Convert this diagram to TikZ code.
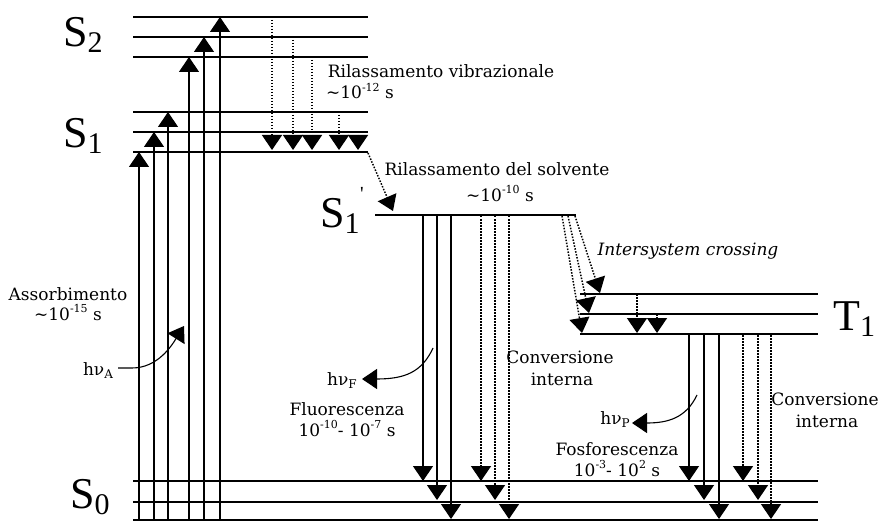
\documentclass[tikz,border=0pt]{standalone}
\usepackage{fontspec}
\setmainfont{DejaVu Serif}
\newfontfamily\labfont{Liberation Serif}
\usetikzlibrary{arrows.meta}
\newcommand\txtsize{\fontsize{17}{20}\selectfont}
\newcommand\sps[1]{\raisebox{0.42em}{\fontsize{11}{11}\selectfont #1}}
\newcommand\sbs[1]{\raisebox{-0.22em}{\fontsize{12}{12}\selectfont #1}}
\newcommand\lbl[2]{{\labfont\fontsize{44}{44}\selectfont #1\raisebox{-6pt}{\fontsize{30}{30}\selectfont #2}}}
\begin{document}
\begin{tikzpicture}[x=1pt,y=-1pt,
  lvl/.style={line width=1.3pt},
  lvlb/.style={line width=2.3pt},
  tipa/.style={-{Triangle[width=20pt,length=15pt]}},
  rad/.style={tipa,line width=1.3pt},
  nonrad/.style={tipa,line width=1.5pt,dash pattern=on 1.5pt off 1.5pt},
  curv/.style={tipa,line width=1.1pt},
  txt/.style={font=\txtsize,inner sep=0pt,anchor=base},
  lab/.style={inner sep=0pt,anchor=base west}]
\useasboundingbox (0,0) rectangle (882,521);
\fill[white] (0,0) rectangle (882,521);

% ---- energy levels ----
\foreach \y/\s in {17/lvl,37/lvl,57/lvlb,112/lvl,132/lvl,152/lvlb}
  \draw[\s] (133,\y) coordinate (L\y a) -- (368,\y) coordinate (L\y b);
\draw[lvlb] (375,215) coordinate (Sp a) -- (576,215) coordinate (Sp b);
\foreach \y/\s in {294/lvl,314/lvl,334/lvlb}
  \draw[\s] (580,\y) coordinate (T\y a) -- (818,\y) coordinate (T\y b);
\foreach \y/\s in {481/lvl,502/lvl,520/lvlb}
  \draw[\s] (133,\y) coordinate (G\y a) -- (818,\y) coordinate (G\y b);

% ---- absorption ----
\foreach \x/\y in {139/152,154/132,168/112,189/57,204/37,220/17}
  \draw[rad] (\x,530) coordinate (A\x s) -- (\x,\y) coordinate (A\x e);

% ---- vibrational relaxation S ----
\foreach \x/\y in {272/17,293/37,312/57,339/112,358/132}
  \draw[nonrad] (\x,\y) coordinate (V\x s) -- (\x,150) coordinate (V\x e);

% ---- solvent relaxation ----
\coordinate (sr1) at (368,153);
\coordinate (sr2) at (393,211);
\draw[nonrad] (sr1) -- (sr2);

% ---- fluorescence and internal conversion from S1' ----
\foreach \x/\y in {423/481,437/500,451/519}
  \draw[rad] (\x,216) coordinate (F\x s) -- (\x,\y) coordinate (F\x e);
\foreach \x/\y in {481/481,495/500,509/519}
  \draw[nonrad] (\x,216) coordinate (C\x s) -- (\x,\y) coordinate (C\x e);

% ---- intersystem crossing ----
\foreach \xa/\xb/\y in {575/600/293,568/589/313,562/582/333}
  \draw[nonrad] (\xa,216) coordinate (I\xa s) -- (\xb,\y) coordinate (I\xa e);

% ---- vibrational relaxation T ----
\draw[nonrad] (637,294) coordinate (tv1) -- (637,333) coordinate (tv2);
\draw[nonrad] (657,314) coordinate (tv3) -- (657,333) coordinate (tv4);

% ---- phosphorescence and internal conversion from T1 ----
\foreach \x/\y in {689/481,704/500,719/519}
  \draw[rad] (\x,335) coordinate (P\x s) -- (\x,\y) coordinate (P\x e);
\foreach \x/\y in {743/481,758/500,771/519}
  \draw[nonrad] (\x,335) coordinate (D\x s) -- (\x,\y) coordinate (D\x e);

% ---- labels of states ----
\node[lab] (s2) at (63,47) {\lbl{S}{2}};
\node[lab] (s1) at (63,148) {\lbl{S}{1}};
\node[lab] (s1p) at (320,227) {\lbl{S}{1}};
\node[inner sep=0pt] (prime) at (362,194) {\labfont\fontsize{20}{20}\selectfont '};
\node[lab] (t1) at (833,330) {\lbl{T}{1}};
\node[lab] (s0) at (70,508) {\lbl{S}{0}};

% ---- texts ----
\node[txt] (rv) at (441,78) {Rilassamento vibrazionale};
\node[txt] (rvt) at (360,99) {\textasciitilde10\sps{-12} s};
\node[txt] (rs) at (497,176) {Rilassamento del solvente};
\node[txt] (rst) at (500,201) {\textasciitilde10\sps{-10} s};
\node[txt,font=\txtsize\itshape] (isc) at (688,255) {Intersystem crossing};
\node[txt] (ic1a) at (560,363) {Conversione};
\node[txt] (ic1b) at (562,385) {interna};
\node[txt] (ic2a) at (825,405) {Conversione};
\node[txt] (ic2b) at (827,427) {interna};
\node[txt] (fl) at (347,415) {Fluorescenza};
\node[txt] (flt) at (347,436) {10\sps{-10}- 10\sps{-7} s};
\node[txt] (hf) at (342,385) {hν\sbs{F}};
\node[txt] (fo) at (617,455) {Fosforescenza};
\node[txt] (fot) at (617,476) {10\sps{-3}- 10\sps{2} s};
\node[txt] (hp) at (615,424) {hν\sbs{P}};
\node[txt] (ab) at (68,300) {Assorbimento};
\node[txt] (abt) at (68,320) {\textasciitilde10\sps{-15} s};
\node[txt] (ha) at (98,375) {hν\sbs{A}};

% ---- photon arrows ----
\coordinate (ha1) at (118,368);
\coordinate (ha2) at (184,326);
\draw[curv] (ha1) -- (132,368) .. controls (158,368) and (172,345) .. (ha2);
\coordinate (hf1) at (433,348);
\coordinate (hf2) at (362,379);
\draw[curv] (hf1) .. controls (422,372) and (405,379) .. (hf2);
\coordinate (hp1) at (697,395);
\coordinate (hp2) at (632,423);
\draw[curv] (hp1) .. controls (686,418) and (668,423) .. (hp2);
\end{tikzpicture}
\end{document}
